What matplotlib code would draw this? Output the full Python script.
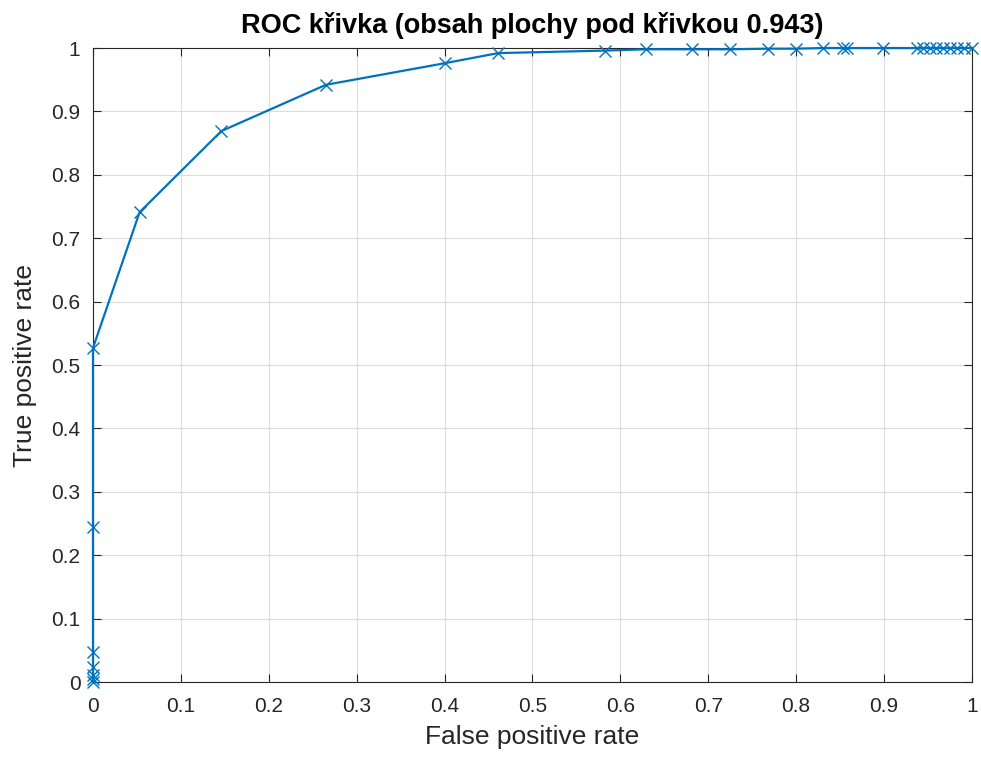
import matplotlib
matplotlib.use("Agg")
import matplotlib.pyplot as plt

plt.rcParams['font.family'] = ['Liberation Sans', 'DejaVu Sans']

fpr = [0.0, 0.0, 0.0, 0.0, 0.0, 0.0, 0.0, 0.053, 0.146, 0.265, 0.400, 0.461,
       0.583, 0.629, 0.681, 0.725, 0.768, 0.800, 0.830, 0.853, 0.858, 0.899,
       0.937, 0.944, 0.952, 0.959, 0.967, 0.975, 0.983, 0.991, 1.0]
tpr = [0.0, 0.004, 0.011, 0.024, 0.048, 0.244, 0.527, 0.741, 0.869, 0.942, 0.976, 0.992,
       0.996, 0.998, 0.998, 0.998, 0.999, 0.999, 1.0, 1.0, 1.0, 1.0,
       1.0, 1.0, 1.0, 1.0, 1.0, 1.0, 1.0, 1.0, 1.0]
auc = 0.943
xticks = [0, 0.1, 0.2, 0.3, 0.4, 0.5, 0.6, 0.7, 0.8, 0.9, 1]
yticks = [0, 0.1, 0.2, 0.3, 0.4, 0.5, 0.6, 0.7, 0.8, 0.9, 1]
tick_labels = ['0', '0.1', '0.2', '0.3', '0.4', '0.5', '0.6', '0.7', '0.8', '0.9', '1']

fig = plt.figure(figsize=(9.81, 7.6), dpi=100)
ax = fig.add_axes([0.0948, 0.1026, 0.896, 0.8342])
ax.plot(fpr, tpr, color='#0072BD', linewidth=1.6, marker='x', markersize=9,
        markeredgewidth=1.0, clip_on=False, zorder=3)
ax.set_xlim(0, 1)
ax.set_ylim(0, 1)
ax.set_xticks(xticks)
ax.set_xticklabels(tick_labels)
ax.set_yticks(yticks)
ax.set_yticklabels(tick_labels)
ax.grid(True, color='#dcdcdc', linewidth=0.8)
ax.set_axisbelow(True)
ax.tick_params(axis='both', direction='in', top=True, right=True, labelsize=15,
               colors='#262626', length=6, width=0.8)
ax.tick_params(axis='x', pad=11)
ax.tick_params(axis='y', pad=9)
for s in ax.spines.values():
    s.set_color('#262626')
    s.set_linewidth(0.8)
ax.set_xlabel('False positive rate', fontsize=19, color='#262626', labelpad=6)
ax.set_ylabel('True positive rate', fontsize=19, color='#262626', labelpad=10)
ax.set_title('ROC křivka (obsah plochy pod křivkou %.3f)' % auc, fontsize=19.5,
             fontweight='bold', color='black', pad=11)
fig.savefig('out.png', dpi=100)
